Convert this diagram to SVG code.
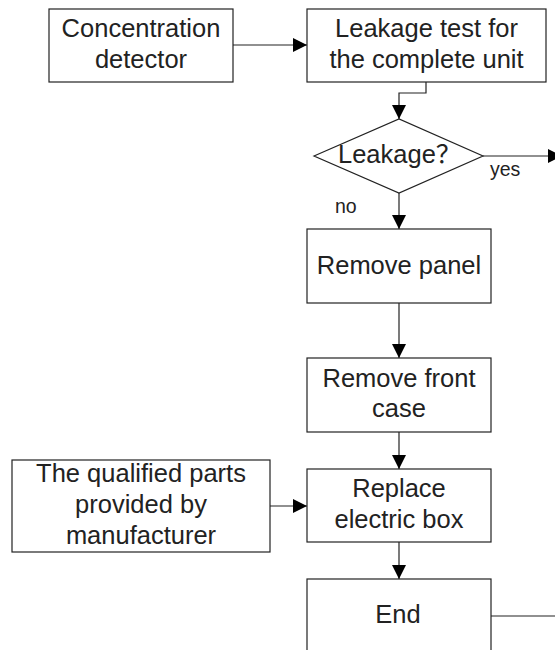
<svg xmlns="http://www.w3.org/2000/svg" width="555" height="650" viewBox="0 0 555 650">
<defs>
<style>
.box{fill:#fff;stroke:#222;stroke-width:1.2}
.t{font-family:"Liberation Sans","Noto Sans CJK SC",Arial,sans-serif;font-size:25.5px;fill:#222;text-anchor:middle}
.s{font-family:"Liberation Sans",Arial,sans-serif;font-size:19.5px;fill:#222}
.c{fill:none;stroke:#222;stroke-width:1.2}
</style>
<marker id="ah" markerWidth="14" markerHeight="14" refX="14" refY="7" orient="auto" markerUnits="userSpaceOnUse">
<path d="M0,0 L14,7 L0,14 Z" fill="#000"/>
</marker>
</defs>
<rect width="555" height="650" fill="#fff"/>
<g id="connectors">
<path class="c" d="M233,45 H307" marker-end="url(#ah)"/>
<path class="c" d="M426,82 V93 H399 V119" marker-end="url(#ah)"/>
<path class="c" d="M483,156 H562" marker-end="url(#ah)"/>
<path class="c" d="M399,193 V229" marker-end="url(#ah)"/>
<path class="c" d="M399,303 V358" marker-end="url(#ah)"/>
<path class="c" d="M399,432 V469" marker-end="url(#ah)"/>
<path class="c" d="M270,506 H307" marker-end="url(#ah)"/>
<path class="c" d="M399,542 V579" marker-end="url(#ah)"/>
<path class="c" d="M491,616 H555"/>
</g>
<g id="concentration">
<rect class="box" x="49" y="9" width="184" height="73"/>
<text class="t" x="141" y="37">Concentration</text>
<text class="t" x="141" y="68">detector</text>
</g>
<g id="leakage-test">
<rect class="box" x="307" y="9" width="239" height="73"/>
<text class="t" x="426.5" y="37">Leakage test for</text>
<text class="t" x="426.5" y="68">the complete unit</text>
</g>
<g id="leakage-decision">
<path class="box" d="M314,156 L399,119 L483,156 L399,193 Z"/>
<text class="t" x="338" y="163" style="text-anchor:start">Leakage？</text>
</g>
<g id="labels">
<text class="s" x="490" y="176">yes</text>
<text class="s" x="335" y="213">no</text>
</g>
<g id="remove-panel">
<rect class="box" x="307" y="229" width="184" height="74"/>
<text class="t" x="399" y="274">Remove panel</text>
</g>
<g id="remove-front-case">
<rect class="box" x="307" y="358" width="184" height="74"/>
<text class="t" x="399" y="387">Remove front</text>
<text class="t" x="399" y="417">case</text>
</g>
<g id="qualified-parts">
<rect class="box" x="12" y="460" width="258" height="92"/>
<text class="t" x="141" y="482">The qualified parts</text>
<text class="t" x="141" y="513">provided by</text>
<text class="t" x="141" y="544">manufacturer</text>
</g>
<g id="replace">
<rect class="box" x="307" y="469" width="184" height="73"/>
<text class="t" x="399" y="497">Replace</text>
<text class="t" x="399" y="528">electric box</text>
</g>
<g id="end">
<rect class="box" x="307" y="579" width="184" height="90"/>
<text class="t" x="398" y="623">End</text>
</g>
</svg>
